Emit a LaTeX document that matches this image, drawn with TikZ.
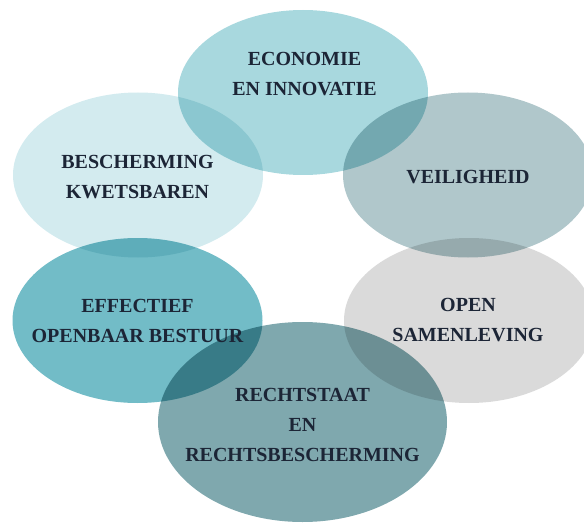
\documentclass[tikz,border=0pt]{standalone}
\usepackage{fontspec}
\setmainfont{Liberation Serif}
\usepackage{tikz}
\usepackage{xcolor}
\usetikzlibrary{shapes.geometric}
\definecolor{ecocol}{RGB}{168,216,222}
\definecolor{beschcol}{RGB}{211,235,239}
\definecolor{veilcol}{RGB}{176,199,203}
\definecolor{effcol}{RGB}{114,188,199}
\definecolor{opencol}{RGB}{218,218,218}
\definecolor{rechtcol}{RGB}{127,168,174}
\definecolor{labelnavy}{RGB}{28,37,54}

\begin{document}
\begin{tikzpicture}[x=1pt,y=-1pt,
  blob/.style={ellipse, inner sep=0pt, minimum width=250pt, minimum height=165pt, blend mode=multiply},
  lbl/.style={font=\bfseries\fontsize{20}{30}\selectfont, text=labelnavy, align=center}]
\useasboundingbox (0,0) rectangle (584,524);
\node[blob, fill=ecocol] (eco) at (303,92.5) {};
\node[blob, fill=beschcol] (besch) at (138,175) {};
\node[blob, fill=veilcol] (veil) at (468,175) {};
\node[blob, fill=effcol] (eff) at (137.5,320.5) {};
\node[blob, fill=opencol] (open) at (469,320.5) {};
\node[blob, fill=rechtcol, minimum width=289pt, minimum height=200pt] (recht) at (302.5,422) {};
\node[lbl] (ecotxt) at (304.5,74) {ECONOMIE\\EN INNOVATIE};
\node[lbl] (beschtxt) at (137.5,177) {BESCHERMING\\KWETSBAREN};
\node[lbl] (veiltxt) at (468,177) {VEILIGHEID};
\node[lbl] (efftxt) at (137.5,321) {EFFECTIEF\\OPENBAAR BESTUUR};
\node[lbl] (opentxt) at (468,320.5) {OPEN\\SAMENLEVING};
\node[lbl] (rechttxt) at (302.5,425) {RECHTSTAAT\\EN\\RECHTSBESCHERMING};
\end{tikzpicture}
\end{document}
